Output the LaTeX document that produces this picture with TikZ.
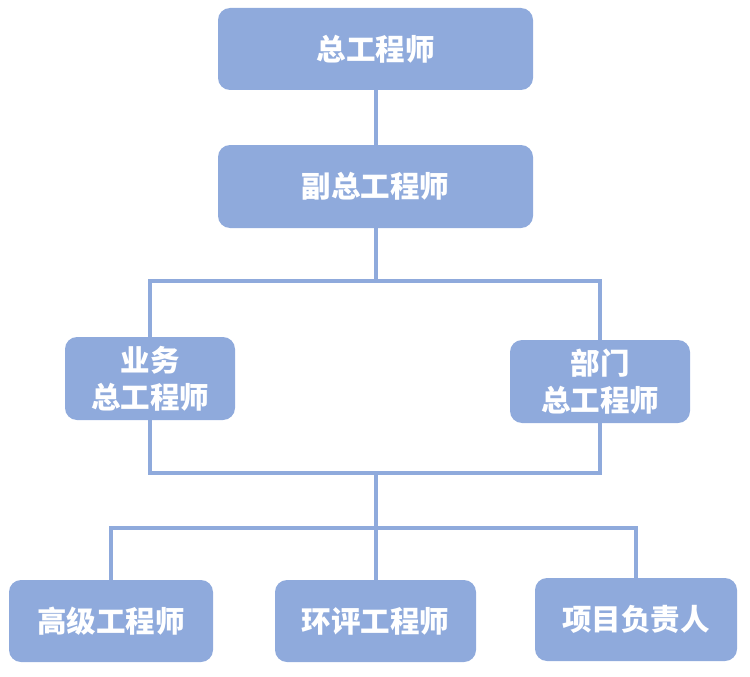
\documentclass[tikz,border=0pt]{standalone}
\usepackage{fontspec}
\newfontfamily\cjk{Noto Sans CJK SC}
\definecolor{boxblue}{HTML}{8FAADC}
\tikzset{
  box/.style={draw=none, fill=boxblue, rounded corners=12pt, text=white,
    font=\cjk\bfseries\fontsize{29.5}{37}\selectfont, align=center,
    inner sep=0pt, anchor=center},
  conn/.style={draw=boxblue, line width=4pt}
}
\begin{document}
\begin{tikzpicture}[x=1pt,y=-1pt]
\useasboundingbox (0,0) rectangle (750,677);
\node[box, minimum width=315pt, minimum height=82pt] (top) at (375.5,49) {总工程师};
\node[box, minimum width=315pt, minimum height=83pt] (vice) at (375.5,186.5) {副总工程师};
\node[box, minimum width=170pt, minimum height=83pt] (biz) at (150,378.5) {业务\\总工程师};
\node[box, minimum width=180pt, minimum height=83pt] (dept) at (600,381.5) {部门\\总工程师};
\node[box, minimum width=204pt, minimum height=82pt] (senior) at (111,621) {高级工程师};
\node[box, minimum width=201pt, minimum height=82pt] (env) at (375.5,621) {环评工程师};
\node[box, minimum width=202pt, minimum height=83pt] (proj) at (636,619.5) {项目负责人};
\coordinate (h1) at (375.5,281);
\coordinate (h2) at (375.5,473);
\coordinate (h3) at (375.5,528);
\begin{scope}[on background layer/.try]
\draw[conn] (top.south) -- (vice.north);
\draw[conn] (vice.south) -- (h1);
\draw[conn] (biz.north) |- (h1) -| (dept.north);
\draw[conn] (biz.south) |- (h2) -| (dept.south);
\draw[conn] (h2) -- (h3);
\draw[conn] (senior.north) |- (h3) -| (proj.north);
\draw[conn] (h3) -- (env.north);
\end{scope}
\end{tikzpicture}
\end{document}
